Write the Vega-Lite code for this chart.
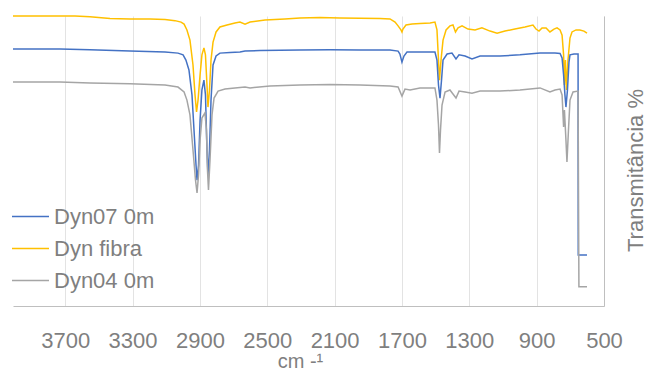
{
  "$schema": "https://vega.github.io/schema/vega-lite/v6.json",
  "width": 591,
  "height": 290,
  "autosize": {"type": "none"},
  "padding": {"left": 13, "top": 16, "right": 42, "bottom": 65},
  "background": "white",
  "config": {
    "view": {"stroke": null},
    "font": "Liberation Sans"
  },
  "data": {
    "values": [
      {"serie": "Dyn fibra", "cm": 4010, "T": 100},
      {"serie": "Dyn fibra", "cm": 3850, "T": 100},
      {"serie": "Dyn fibra", "cm": 3731, "T": 100},
      {"serie": "Dyn fibra", "cm": 3642, "T": 100},
      {"serie": "Dyn fibra", "cm": 3553, "T": 99.7},
      {"serie": "Dyn fibra", "cm": 3434, "T": 99.1},
      {"serie": "Dyn fibra", "cm": 3315, "T": 99.0},
      {"serie": "Dyn fibra", "cm": 3196, "T": 99.0},
      {"serie": "Dyn fibra", "cm": 3107, "T": 98.8},
      {"serie": "Dyn fibra", "cm": 3048, "T": 98.4},
      {"serie": "Dyn fibra", "cm": 3012, "T": 97.9},
      {"serie": "Dyn fibra", "cm": 2994, "T": 97.2},
      {"serie": "Dyn fibra", "cm": 2977, "T": 95.2},
      {"serie": "Dyn fibra", "cm": 2959, "T": 91.7},
      {"serie": "Dyn fibra", "cm": 2941, "T": 83.1},
      {"serie": "Dyn fibra", "cm": 2929, "T": 72.8},
      {"serie": "Dyn fibra", "cm": 2920, "T": 66.9},
      {"serie": "Dyn fibra", "cm": 2911, "T": 71.0},
      {"serie": "Dyn fibra", "cm": 2899, "T": 79.7},
      {"serie": "Dyn fibra", "cm": 2888, "T": 86.6},
      {"serie": "Dyn fibra", "cm": 2876, "T": 89.0},
      {"serie": "Dyn fibra", "cm": 2867, "T": 86.6},
      {"serie": "Dyn fibra", "cm": 2858, "T": 76.2},
      {"serie": "Dyn fibra", "cm": 2852, "T": 68.6},
      {"serie": "Dyn fibra", "cm": 2843, "T": 74.5},
      {"serie": "Dyn fibra", "cm": 2834, "T": 84.8},
      {"serie": "Dyn fibra", "cm": 2822, "T": 91.0},
      {"serie": "Dyn fibra", "cm": 2804, "T": 94.5},
      {"serie": "Dyn fibra", "cm": 2781, "T": 96.2},
      {"serie": "Dyn fibra", "cm": 2739, "T": 96.9},
      {"serie": "Dyn fibra", "cm": 2692, "T": 97.6},
      {"serie": "Dyn fibra", "cm": 2662, "T": 97.9},
      {"serie": "Dyn fibra", "cm": 2632, "T": 97.2},
      {"serie": "Dyn fibra", "cm": 2602, "T": 97.9},
      {"serie": "Dyn fibra", "cm": 2513, "T": 98.6},
      {"serie": "Dyn fibra", "cm": 2395, "T": 99.0},
      {"serie": "Dyn fibra", "cm": 2306, "T": 99.3},
      {"serie": "Dyn fibra", "cm": 2187, "T": 99.5},
      {"serie": "Dyn fibra", "cm": 2068, "T": 99.3},
      {"serie": "Dyn fibra", "cm": 1949, "T": 99.2},
      {"serie": "Dyn fibra", "cm": 1830, "T": 99.1},
      {"serie": "Dyn fibra", "cm": 1771, "T": 99.0},
      {"serie": "Dyn fibra", "cm": 1741, "T": 97.9},
      {"serie": "Dyn fibra", "cm": 1723, "T": 96.6},
      {"serie": "Dyn fibra", "cm": 1706, "T": 95.2},
      {"serie": "Dyn fibra", "cm": 1700, "T": 94.5},
      {"serie": "Dyn fibra", "cm": 1694, "T": 95.5},
      {"serie": "Dyn fibra", "cm": 1676, "T": 96.9},
      {"serie": "Dyn fibra", "cm": 1640, "T": 97.2},
      {"serie": "Dyn fibra", "cm": 1593, "T": 97.4},
      {"serie": "Dyn fibra", "cm": 1533, "T": 97.6},
      {"serie": "Dyn fibra", "cm": 1504, "T": 97.9},
      {"serie": "Dyn fibra", "cm": 1492, "T": 95.2},
      {"serie": "Dyn fibra", "cm": 1483, "T": 84.8},
      {"serie": "Dyn fibra", "cm": 1477, "T": 77.9},
      {"serie": "Dyn fibra", "cm": 1468, "T": 84.8},
      {"serie": "Dyn fibra", "cm": 1456, "T": 91.7},
      {"serie": "Dyn fibra", "cm": 1438, "T": 95.2},
      {"serie": "Dyn fibra", "cm": 1415, "T": 96.6},
      {"serie": "Dyn fibra", "cm": 1397, "T": 96.9},
      {"serie": "Dyn fibra", "cm": 1382, "T": 94.5},
      {"serie": "Dyn fibra", "cm": 1367, "T": 95.9},
      {"serie": "Dyn fibra", "cm": 1343, "T": 96.6},
      {"serie": "Dyn fibra", "cm": 1308, "T": 95.5},
      {"serie": "Dyn fibra", "cm": 1266, "T": 95.2},
      {"serie": "Dyn fibra", "cm": 1225, "T": 95.9},
      {"serie": "Dyn fibra", "cm": 1177, "T": 94.8},
      {"serie": "Dyn fibra", "cm": 1135, "T": 94.1},
      {"serie": "Dyn fibra", "cm": 1088, "T": 94.8},
      {"serie": "Dyn fibra", "cm": 1029, "T": 95.5},
      {"serie": "Dyn fibra", "cm": 969, "T": 96.2},
      {"serie": "Dyn fibra", "cm": 922, "T": 96.9},
      {"serie": "Dyn fibra", "cm": 904, "T": 95.5},
      {"serie": "Dyn fibra", "cm": 886, "T": 94.8},
      {"serie": "Dyn fibra", "cm": 868, "T": 95.9},
      {"serie": "Dyn fibra", "cm": 844, "T": 95.9},
      {"serie": "Dyn fibra", "cm": 821, "T": 94.5},
      {"serie": "Dyn fibra", "cm": 797, "T": 95.5},
      {"serie": "Dyn fibra", "cm": 779, "T": 95.9},
      {"serie": "Dyn fibra", "cm": 761, "T": 95.2},
      {"serie": "Dyn fibra", "cm": 749, "T": 93.4},
      {"serie": "Dyn fibra", "cm": 740, "T": 86.6},
      {"serie": "Dyn fibra", "cm": 735, "T": 76.2},
      {"serie": "Dyn fibra", "cm": 729, "T": 84.8},
      {"serie": "Dyn fibra", "cm": 723, "T": 74.5},
      {"serie": "Dyn fibra", "cm": 714, "T": 84.8},
      {"serie": "Dyn fibra", "cm": 702, "T": 92.4},
      {"serie": "Dyn fibra", "cm": 690, "T": 94.5},
      {"serie": "Dyn fibra", "cm": 666, "T": 95.2},
      {"serie": "Dyn fibra", "cm": 643, "T": 95.2},
      {"serie": "Dyn fibra", "cm": 619, "T": 94.8},
      {"serie": "Dyn fibra", "cm": 601, "T": 94.1},

      {"serie": "Dyn07 0m", "cm": 4010, "T": 88.6},
      {"serie": "Dyn07 0m", "cm": 3731, "T": 88.6},
      {"serie": "Dyn07 0m", "cm": 3553, "T": 88.4},
      {"serie": "Dyn07 0m", "cm": 3315, "T": 87.9},
      {"serie": "Dyn07 0m", "cm": 3107, "T": 87.6},
      {"serie": "Dyn07 0m", "cm": 3030, "T": 87.2},
      {"serie": "Dyn07 0m", "cm": 3000, "T": 86.6},
      {"serie": "Dyn07 0m", "cm": 2983, "T": 84.8},
      {"serie": "Dyn07 0m", "cm": 2965, "T": 81.4},
      {"serie": "Dyn07 0m", "cm": 2947, "T": 72.8},
      {"serie": "Dyn07 0m", "cm": 2935, "T": 60.7},
      {"serie": "Dyn07 0m", "cm": 2923, "T": 48.6},
      {"serie": "Dyn07 0m", "cm": 2917, "T": 43.4},
      {"serie": "Dyn07 0m", "cm": 2908, "T": 48.6},
      {"serie": "Dyn07 0m", "cm": 2899, "T": 64.1},
      {"serie": "Dyn07 0m", "cm": 2888, "T": 74.5},
      {"serie": "Dyn07 0m", "cm": 2876, "T": 77.9},
      {"serie": "Dyn07 0m", "cm": 2867, "T": 72.8},
      {"serie": "Dyn07 0m", "cm": 2858, "T": 53.8},
      {"serie": "Dyn07 0m", "cm": 2852, "T": 45.2},
      {"serie": "Dyn07 0m", "cm": 2843, "T": 53.8},
      {"serie": "Dyn07 0m", "cm": 2834, "T": 71.0},
      {"serie": "Dyn07 0m", "cm": 2822, "T": 83.1},
      {"serie": "Dyn07 0m", "cm": 2804, "T": 86.2},
      {"serie": "Dyn07 0m", "cm": 2781, "T": 87.2},
      {"serie": "Dyn07 0m", "cm": 2721, "T": 87.4},
      {"serie": "Dyn07 0m", "cm": 2662, "T": 87.6},
      {"serie": "Dyn07 0m", "cm": 2632, "T": 87.9},
      {"serie": "Dyn07 0m", "cm": 2543, "T": 88.1},
      {"serie": "Dyn07 0m", "cm": 2306, "T": 88.3},
      {"serie": "Dyn07 0m", "cm": 2127, "T": 88.4},
      {"serie": "Dyn07 0m", "cm": 1949, "T": 88.3},
      {"serie": "Dyn07 0m", "cm": 1771, "T": 88.3},
      {"serie": "Dyn07 0m", "cm": 1723, "T": 87.9},
      {"serie": "Dyn07 0m", "cm": 1712, "T": 86.9},
      {"serie": "Dyn07 0m", "cm": 1700, "T": 84.1},
      {"serie": "Dyn07 0m", "cm": 1688, "T": 86.2},
      {"serie": "Dyn07 0m", "cm": 1670, "T": 87.6},
      {"serie": "Dyn07 0m", "cm": 1593, "T": 87.6},
      {"serie": "Dyn07 0m", "cm": 1504, "T": 87.6},
      {"serie": "Dyn07 0m", "cm": 1492, "T": 84.8},
      {"serie": "Dyn07 0m", "cm": 1483, "T": 76.2},
      {"serie": "Dyn07 0m", "cm": 1474, "T": 71.7},
      {"serie": "Dyn07 0m", "cm": 1465, "T": 77.9},
      {"serie": "Dyn07 0m", "cm": 1456, "T": 84.8},
      {"serie": "Dyn07 0m", "cm": 1432, "T": 86.9},
      {"serie": "Dyn07 0m", "cm": 1403, "T": 87.2},
      {"serie": "Dyn07 0m", "cm": 1379, "T": 85.2},
      {"serie": "Dyn07 0m", "cm": 1361, "T": 86.6},
      {"serie": "Dyn07 0m", "cm": 1325, "T": 86.2},
      {"serie": "Dyn07 0m", "cm": 1284, "T": 85.2},
      {"serie": "Dyn07 0m", "cm": 1236, "T": 86.2},
      {"serie": "Dyn07 0m", "cm": 1118, "T": 86.2},
      {"serie": "Dyn07 0m", "cm": 999, "T": 86.6},
      {"serie": "Dyn07 0m", "cm": 880, "T": 87.2},
      {"serie": "Dyn07 0m", "cm": 791, "T": 87.2},
      {"serie": "Dyn07 0m", "cm": 761, "T": 87.1},
      {"serie": "Dyn07 0m", "cm": 749, "T": 85.5},
      {"serie": "Dyn07 0m", "cm": 740, "T": 79.7},
      {"serie": "Dyn07 0m", "cm": 732, "T": 72.8},
      {"serie": "Dyn07 0m", "cm": 726, "T": 68.6},
      {"serie": "Dyn07 0m", "cm": 717, "T": 74.5},
      {"serie": "Dyn07 0m", "cm": 708, "T": 84.1},
      {"serie": "Dyn07 0m", "cm": 702, "T": 86.6},
      {"serie": "Dyn07 0m", "cm": 678, "T": 86.9},
      {"serie": "Dyn07 0m", "cm": 654, "T": 86.9},
      {"serie": "Dyn07 0m", "cm": 653, "T": 17.6},
      {"serie": "Dyn07 0m", "cm": 601, "T": 17.6},

      {"serie": "Dyn04 0m", "cm": 4010, "T": 77.2},
      {"serie": "Dyn04 0m", "cm": 3731, "T": 77.2},
      {"serie": "Dyn04 0m", "cm": 3553, "T": 76.9},
      {"serie": "Dyn04 0m", "cm": 3315, "T": 76.6},
      {"serie": "Dyn04 0m", "cm": 3107, "T": 76.2},
      {"serie": "Dyn04 0m", "cm": 3030, "T": 75.5},
      {"serie": "Dyn04 0m", "cm": 2994, "T": 73.8},
      {"serie": "Dyn04 0m", "cm": 2977, "T": 71.0},
      {"serie": "Dyn04 0m", "cm": 2959, "T": 65.9},
      {"serie": "Dyn04 0m", "cm": 2941, "T": 53.8},
      {"serie": "Dyn04 0m", "cm": 2926, "T": 43.4},
      {"serie": "Dyn04 0m", "cm": 2917, "T": 39.0},
      {"serie": "Dyn04 0m", "cm": 2908, "T": 45.2},
      {"serie": "Dyn04 0m", "cm": 2899, "T": 57.2},
      {"serie": "Dyn04 0m", "cm": 2888, "T": 64.8},
      {"serie": "Dyn04 0m", "cm": 2870, "T": 66.6},
      {"serie": "Dyn04 0m", "cm": 2861, "T": 60.7},
      {"serie": "Dyn04 0m", "cm": 2855, "T": 46.9},
      {"serie": "Dyn04 0m", "cm": 2849, "T": 40.0},
      {"serie": "Dyn04 0m", "cm": 2840, "T": 50.3},
      {"serie": "Dyn04 0m", "cm": 2828, "T": 65.9},
      {"serie": "Dyn04 0m", "cm": 2816, "T": 71.7},
      {"serie": "Dyn04 0m", "cm": 2792, "T": 74.1},
      {"serie": "Dyn04 0m", "cm": 2751, "T": 74.8},
      {"serie": "Dyn04 0m", "cm": 2692, "T": 75.2},
      {"serie": "Dyn04 0m", "cm": 2632, "T": 75.5},
      {"serie": "Dyn04 0m", "cm": 2602, "T": 75.2},
      {"serie": "Dyn04 0m", "cm": 2484, "T": 75.9},
      {"serie": "Dyn04 0m", "cm": 2306, "T": 76.2},
      {"serie": "Dyn04 0m", "cm": 2127, "T": 76.4},
      {"serie": "Dyn04 0m", "cm": 1949, "T": 76.2},
      {"serie": "Dyn04 0m", "cm": 1771, "T": 75.9},
      {"serie": "Dyn04 0m", "cm": 1723, "T": 75.5},
      {"serie": "Dyn04 0m", "cm": 1700, "T": 72.4},
      {"serie": "Dyn04 0m", "cm": 1682, "T": 74.8},
      {"serie": "Dyn04 0m", "cm": 1652, "T": 74.5},
      {"serie": "Dyn04 0m", "cm": 1593, "T": 75.2},
      {"serie": "Dyn04 0m", "cm": 1504, "T": 75.2},
      {"serie": "Dyn04 0m", "cm": 1492, "T": 71.0},
      {"serie": "Dyn04 0m", "cm": 1483, "T": 62.4},
      {"serie": "Dyn04 0m", "cm": 1477, "T": 52.8},
      {"serie": "Dyn04 0m", "cm": 1471, "T": 60.7},
      {"serie": "Dyn04 0m", "cm": 1462, "T": 69.3},
      {"serie": "Dyn04 0m", "cm": 1444, "T": 73.8},
      {"serie": "Dyn04 0m", "cm": 1415, "T": 74.5},
      {"serie": "Dyn04 0m", "cm": 1379, "T": 71.7},
      {"serie": "Dyn04 0m", "cm": 1361, "T": 74.1},
      {"serie": "Dyn04 0m", "cm": 1325, "T": 73.8},
      {"serie": "Dyn04 0m", "cm": 1284, "T": 73.4},
      {"serie": "Dyn04 0m", "cm": 1236, "T": 74.1},
      {"serie": "Dyn04 0m", "cm": 1118, "T": 74.1},
      {"serie": "Dyn04 0m", "cm": 999, "T": 74.5},
      {"serie": "Dyn04 0m", "cm": 880, "T": 75.2},
      {"serie": "Dyn04 0m", "cm": 821, "T": 73.8},
      {"serie": "Dyn04 0m", "cm": 791, "T": 74.5},
      {"serie": "Dyn04 0m", "cm": 761, "T": 74.8},
      {"serie": "Dyn04 0m", "cm": 749, "T": 72.8},
      {"serie": "Dyn04 0m", "cm": 740, "T": 61.7},
      {"serie": "Dyn04 0m", "cm": 735, "T": 67.6},
      {"serie": "Dyn04 0m", "cm": 726, "T": 57.2},
      {"serie": "Dyn04 0m", "cm": 720, "T": 49.7},
      {"serie": "Dyn04 0m", "cm": 711, "T": 60.7},
      {"serie": "Dyn04 0m", "cm": 702, "T": 71.0},
      {"serie": "Dyn04 0m", "cm": 684, "T": 73.8},
      {"serie": "Dyn04 0m", "cm": 654, "T": 74.1},
      {"serie": "Dyn04 0m", "cm": 649, "T": 6.6},
      {"serie": "Dyn04 0m", "cm": 601, "T": 6.6}
    ]
  },
  "mark": {"type": "line", "strokeWidth": 1.5, "interpolate": "linear"},
  "encoding": {
    "x": {
      "field": "cm",
      "type": "quantitative",
      "scale": {"domain": [500, 4010], "reverse": true, "nice": false, "zero": false},
      "axis": {
        "values": [3700, 3300, 2900, 2500, 2100, 1700, 1300, 900, 500],
        "format": "d",
        "title": "cm -¹",
        "titleFontSize": 20,
        "titleFontWeight": "normal",
        "titleColor": "#7f7f7f",
        "titleX": 287,
        "titlePadding": 0,
        "labelFontSize": 22,
        "labelColor": "#7f7f7f",
        "labelPadding": 24,
        "labelFlush": false,
        "labelOverlap": false,
        "ticks": false,
        "grid": true,
        "gridColor": "#e3e3e3",
        "gridWidth": 1,
        "domainColor": "#bfbfbf",
        "domainWidth": 1
      }
    },
    "y": {
      "field": "T",
      "type": "quantitative",
      "scale": {"domain": [0, 100], "nice": false, "zero": false},
      "axis": {
        "orient": "right",
        "title": "Transmitância %",
        "titleFontSize": 22,
        "titleFontWeight": "normal",
        "titleColor": "#7f7f7f",
        "titleAngle": 270,
        "titleAlign": "center",
        "titleBaseline": "alphabetic",
        "titleX": 38,
        "titleY": 154,
        "labels": false,
        "ticks": false,
        "grid": false,
        "domainColor": "#bfbfbf",
        "domainWidth": 1
      }
    },
    "color": {
      "field": "serie",
      "type": "nominal",
      "scale": {
        "domain": ["Dyn07 0m", "Dyn fibra", "Dyn04 0m"],
        "range": ["#4472c4", "#ffc000", "#a5a5a5"]
      },
      "legend": {
        "title": null,
        "orient": "none",
        "legendX": -2,
        "legendY": 181,
        "padding": 0,
        "symbolType": "stroke",
        "symbolSize": 1369,
        "symbolStrokeWidth": 1.5,
        "labelFontSize": 22,
        "labelColor": "#7f7f7f",
        "labelOffset": 4,
        "rowPadding": 1
      }
    }
  }
}
